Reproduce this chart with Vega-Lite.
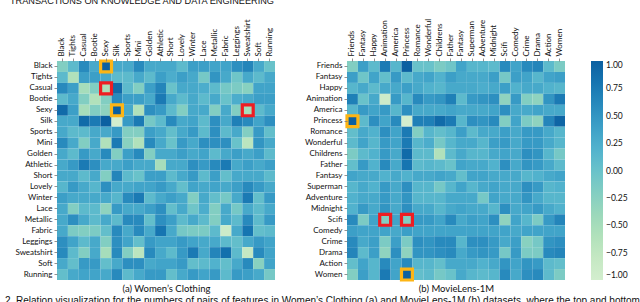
{
"$schema": "https://vega.github.io/schema/vega-lite/v6.json",
"background": "white",
"padding": {"left": 4, "top": -4, "right": 0, "bottom": 0},
"title": {"text": "2. Relation visualization for the numbers of pairs of features in Women’s Clothing (a) and MovieLens-1M (b) datasets, where the top and bottom pairs are marked respectively", "orient": "bottom", "anchor": "start", "frame": "bounds", "font": "Liberation Sans", "fontSize": 10, "fontWeight": "normal", "color": "#111", "offset": 3, "dx": -5},
"datasets": {
"women": [
{"r":"Black","c":"Black","v":-0.2},{"r":"Black","c":"Tights","v":0.1},{"r":"Black","c":"Casual","v":0.6},{"r":"Black","c":"Bootie","v":0.3},{"r":"Black","c":"Sexy","v":1.0},{"r":"Black","c":"Silk","v":0.3},{"r":"Black","c":"Sports","v":0.3},{"r":"Black","c":"Mini","v":0.6},{"r":"Black","c":"Golden","v":0.3},{"r":"Black","c":"Athletic","v":0.3},{"r":"Black","c":"Short","v":0.3},{"r":"Black","c":"Lovely","v":0.1},{"r":"Black","c":"Winter","v":0.4},{"r":"Black","c":"Lace","v":0.4},{"r":"Black","c":"Metallic","v":0.35},{"r":"Black","c":"Fabric","v":0.35},{"r":"Black","c":"Leggings","v":0.55},{"r":"Black","c":"Sweatshirt","v":0.65},{"r":"Black","c":"Soft","v":0.3},{"r":"Black","c":"Running","v":0.0},
{"r":"Tights","c":"Black","v":0.1},{"r":"Tights","c":"Tights","v":-0.6},{"r":"Tights","c":"Casual","v":0.4},{"r":"Tights","c":"Bootie","v":0.4},{"r":"Tights","c":"Sexy","v":0.3},{"r":"Tights","c":"Silk","v":0.1},{"r":"Tights","c":"Sports","v":0.1},{"r":"Tights","c":"Mini","v":0.3},{"r":"Tights","c":"Golden","v":0.1},{"r":"Tights","c":"Athletic","v":0.4},{"r":"Tights","c":"Short","v":0.25},{"r":"Tights","c":"Lovely","v":0.4},{"r":"Tights","c":"Winter","v":0.3},{"r":"Tights","c":"Lace","v":-0.1},{"r":"Tights","c":"Metallic","v":0.5},{"r":"Tights","c":"Fabric","v":0.3},{"r":"Tights","c":"Leggings","v":-0.05},{"r":"Tights","c":"Sweatshirt","v":0.3},{"r":"Tights","c":"Soft","v":0.1},{"r":"Tights","c":"Running","v":0.3},
{"r":"Casual","c":"Black","v":0.6},{"r":"Casual","c":"Tights","v":0.4},{"r":"Casual","c":"Casual","v":-0.5},{"r":"Casual","c":"Bootie","v":-0.2},{"r":"Casual","c":"Sexy","v":-0.55},{"r":"Casual","c":"Silk","v":0.9},{"r":"Casual","c":"Sports","v":0.1},{"r":"Casual","c":"Mini","v":-0.2},{"r":"Casual","c":"Golden","v":0.4},{"r":"Casual","c":"Athletic","v":0.65},{"r":"Casual","c":"Short","v":0.0},{"r":"Casual","c":"Lovely","v":0.3},{"r":"Casual","c":"Winter","v":0.3},{"r":"Casual","c":"Lace","v":0.25},{"r":"Casual","c":"Metallic","v":0.1},{"r":"Casual","c":"Fabric","v":-0.1},{"r":"Casual","c":"Leggings","v":-0.15},{"r":"Casual","c":"Sweatshirt","v":-0.25},{"r":"Casual","c":"Soft","v":0.35},{"r":"Casual","c":"Running","v":0.35},
{"r":"Bootie","c":"Black","v":0.1},{"r":"Bootie","c":"Tights","v":0.3},{"r":"Bootie","c":"Casual","v":-0.2},{"r":"Bootie","c":"Bootie","v":-0.6},{"r":"Bootie","c":"Sexy","v":-0.2},{"r":"Bootie","c":"Silk","v":0.6},{"r":"Bootie","c":"Sports","v":0.4},{"r":"Bootie","c":"Mini","v":0.4},{"r":"Bootie","c":"Golden","v":0.3},{"r":"Bootie","c":"Athletic","v":0.75},{"r":"Bootie","c":"Short","v":0.3},{"r":"Bootie","c":"Lovely","v":0.1},{"r":"Bootie","c":"Winter","v":0.3},{"r":"Bootie","c":"Lace","v":0.1},{"r":"Bootie","c":"Metallic","v":0.3},{"r":"Bootie","c":"Fabric","v":0.0},{"r":"Bootie","c":"Leggings","v":0.25},{"r":"Bootie","c":"Sweatshirt","v":0.3},{"r":"Bootie","c":"Soft","v":0.4},{"r":"Bootie","c":"Running","v":0.4},
{"r":"Sexy","c":"Black","v":0.9},{"r":"Sexy","c":"Tights","v":0.4},{"r":"Sexy","c":"Casual","v":-0.5},{"r":"Sexy","c":"Bootie","v":-0.2},{"r":"Sexy","c":"Sexy","v":-0.3},{"r":"Sexy","c":"Silk","v":1.0},{"r":"Sexy","c":"Sports","v":0.3},{"r":"Sexy","c":"Mini","v":-0.6},{"r":"Sexy","c":"Golden","v":0.55},{"r":"Sexy","c":"Athletic","v":0.45},{"r":"Sexy","c":"Short","v":0.1},{"r":"Sexy","c":"Lovely","v":-0.2},{"r":"Sexy","c":"Winter","v":0.3},{"r":"Sexy","c":"Lace","v":0.3},{"r":"Sexy","c":"Metallic","v":-0.2},{"r":"Sexy","c":"Fabric","v":0.3},{"r":"Sexy","c":"Leggings","v":-0.2},{"r":"Sexy","c":"Sweatshirt","v":-0.5},{"r":"Sexy","c":"Soft","v":0.1},{"r":"Sexy","c":"Running","v":0.3},
{"r":"Silk","c":"Black","v":0.3},{"r":"Silk","c":"Tights","v":0.3},{"r":"Silk","c":"Casual","v":0.9},{"r":"Silk","c":"Bootie","v":0.75},{"r":"Silk","c":"Sexy","v":1.0},{"r":"Silk","c":"Silk","v":-1.0},{"r":"Silk","c":"Sports","v":0.45},{"r":"Silk","c":"Mini","v":0.75},{"r":"Silk","c":"Golden","v":-0.1},{"r":"Silk","c":"Athletic","v":0.1},{"r":"Silk","c":"Short","v":0.6},{"r":"Silk","c":"Lovely","v":0.3},{"r":"Silk","c":"Winter","v":0.35},{"r":"Silk","c":"Lace","v":0.1},{"r":"Silk","c":"Metallic","v":0.55},{"r":"Silk","c":"Fabric","v":0.3},{"r":"Silk","c":"Leggings","v":0.7},{"r":"Silk","c":"Sweatshirt","v":0.6},{"r":"Silk","c":"Soft","v":0.35},{"r":"Silk","c":"Running","v":0.55},
{"r":"Sports","c":"Black","v":0.3},{"r":"Sports","c":"Tights","v":0.1},{"r":"Sports","c":"Casual","v":0.1},{"r":"Sports","c":"Bootie","v":0.3},{"r":"Sports","c":"Sexy","v":0.3},{"r":"Sports","c":"Silk","v":0.45},{"r":"Sports","c":"Sports","v":-0.2},{"r":"Sports","c":"Mini","v":-0.2},{"r":"Sports","c":"Golden","v":0.4},{"r":"Sports","c":"Athletic","v":0.3},{"r":"Sports","c":"Short","v":0.05},{"r":"Sports","c":"Lovely","v":0.3},{"r":"Sports","c":"Winter","v":0.45},{"r":"Sports","c":"Lace","v":0.1},{"r":"Sports","c":"Metallic","v":0.55},{"r":"Sports","c":"Fabric","v":0.1},{"r":"Sports","c":"Leggings","v":0.3},{"r":"Sports","c":"Sweatshirt","v":-0.2},{"r":"Sports","c":"Soft","v":0.45},{"r":"Sports","c":"Running","v":0.05},
{"r":"Mini","c":"Black","v":0.6},{"r":"Mini","c":"Tights","v":0.3},{"r":"Mini","c":"Casual","v":-0.2},{"r":"Mini","c":"Bootie","v":0.3},{"r":"Mini","c":"Sexy","v":-0.6},{"r":"Mini","c":"Silk","v":0.75},{"r":"Mini","c":"Sports","v":-0.25},{"r":"Mini","c":"Mini","v":-0.6},{"r":"Mini","c":"Golden","v":0.6},{"r":"Mini","c":"Athletic","v":0.3},{"r":"Mini","c":"Short","v":0.0},{"r":"Mini","c":"Lovely","v":0.45},{"r":"Mini","c":"Winter","v":0.3},{"r":"Mini","c":"Lace","v":0.55},{"r":"Mini","c":"Metallic","v":0.55},{"r":"Mini","c":"Fabric","v":0.55},{"r":"Mini","c":"Leggings","v":0.0},{"r":"Mini","c":"Sweatshirt","v":-0.7},{"r":"Mini","c":"Soft","v":0.5},{"r":"Mini","c":"Running","v":0.3},
{"r":"Golden","c":"Black","v":0.3},{"r":"Golden","c":"Tights","v":0.1},{"r":"Golden","c":"Casual","v":0.45},{"r":"Golden","c":"Bootie","v":0.3},{"r":"Golden","c":"Sexy","v":0.6},{"r":"Golden","c":"Silk","v":-0.2},{"r":"Golden","c":"Sports","v":0.4},{"r":"Golden","c":"Mini","v":0.6},{"r":"Golden","c":"Golden","v":-0.2},{"r":"Golden","c":"Athletic","v":0.3},{"r":"Golden","c":"Short","v":0.3},{"r":"Golden","c":"Lovely","v":0.4},{"r":"Golden","c":"Winter","v":0.3},{"r":"Golden","c":"Lace","v":0.35},{"r":"Golden","c":"Metallic","v":0.1},{"r":"Golden","c":"Fabric","v":0.3},{"r":"Golden","c":"Leggings","v":0.4},{"r":"Golden","c":"Sweatshirt","v":0.3},{"r":"Golden","c":"Soft","v":0.4},{"r":"Golden","c":"Running","v":0.1},
{"r":"Athletic","c":"Black","v":0.3},{"r":"Athletic","c":"Tights","v":0.45},{"r":"Athletic","c":"Casual","v":0.75},{"r":"Athletic","c":"Bootie","v":0.55},{"r":"Athletic","c":"Sexy","v":0.3},{"r":"Athletic","c":"Silk","v":0.3},{"r":"Athletic","c":"Sports","v":0.4},{"r":"Athletic","c":"Mini","v":0.3},{"r":"Athletic","c":"Golden","v":0.3},{"r":"Athletic","c":"Athletic","v":-0.5},{"r":"Athletic","c":"Short","v":0.3},{"r":"Athletic","c":"Lovely","v":0.3},{"r":"Athletic","c":"Winter","v":0.55},{"r":"Athletic","c":"Lace","v":0.45},{"r":"Athletic","c":"Metallic","v":0.6},{"r":"Athletic","c":"Fabric","v":0.75},{"r":"Athletic","c":"Leggings","v":0.3},{"r":"Athletic","c":"Sweatshirt","v":0.4},{"r":"Athletic","c":"Soft","v":0.3},{"r":"Athletic","c":"Running","v":0.4},
{"r":"Short","c":"Black","v":0.3},{"r":"Short","c":"Tights","v":0.3},{"r":"Short","c":"Casual","v":0.1},{"r":"Short","c":"Bootie","v":0.3},{"r":"Short","c":"Sexy","v":-0.2},{"r":"Short","c":"Silk","v":0.65},{"r":"Short","c":"Sports","v":0.1},{"r":"Short","c":"Mini","v":0.0},{"r":"Short","c":"Golden","v":0.4},{"r":"Short","c":"Athletic","v":0.4},{"r":"Short","c":"Short","v":0.1},{"r":"Short","c":"Lovely","v":0.3},{"r":"Short","c":"Winter","v":0.45},{"r":"Short","c":"Lace","v":0.1},{"r":"Short","c":"Metallic","v":0.4},{"r":"Short","c":"Fabric","v":0.05},{"r":"Short","c":"Leggings","v":0.3},{"r":"Short","c":"Sweatshirt","v":0.3},{"r":"Short","c":"Soft","v":0.3},{"r":"Short","c":"Running","v":0.1},
{"r":"Lovely","c":"Black","v":0.15},{"r":"Lovely","c":"Tights","v":0.45},{"r":"Lovely","c":"Casual","v":0.3},{"r":"Lovely","c":"Bootie","v":0.15},{"r":"Lovely","c":"Sexy","v":0.55},{"r":"Lovely","c":"Silk","v":0.3},{"r":"Lovely","c":"Sports","v":0.3},{"r":"Lovely","c":"Mini","v":0.35},{"r":"Lovely","c":"Golden","v":0.35},{"r":"Lovely","c":"Athletic","v":0.45},{"r":"Lovely","c":"Short","v":0.3},{"r":"Lovely","c":"Lovely","v":0.05},{"r":"Lovely","c":"Winter","v":0.35},{"r":"Lovely","c":"Lace","v":0.3},{"r":"Lovely","c":"Metallic","v":0.35},{"r":"Lovely","c":"Fabric","v":0.3},{"r":"Lovely","c":"Leggings","v":0.4},{"r":"Lovely","c":"Sweatshirt","v":0.6},{"r":"Lovely","c":"Soft","v":0.45},{"r":"Lovely","c":"Running","v":0.3},
{"r":"Winter","c":"Black","v":0.4},{"r":"Winter","c":"Tights","v":0.3},{"r":"Winter","c":"Casual","v":0.3},{"r":"Winter","c":"Bootie","v":0.3},{"r":"Winter","c":"Sexy","v":0.3},{"r":"Winter","c":"Silk","v":0.15},{"r":"Winter","c":"Sports","v":0.6},{"r":"Winter","c":"Mini","v":0.75},{"r":"Winter","c":"Golden","v":0.1},{"r":"Winter","c":"Athletic","v":0.3},{"r":"Winter","c":"Short","v":0.4},{"r":"Winter","c":"Lovely","v":0.3},{"r":"Winter","c":"Winter","v":-0.2},{"r":"Winter","c":"Lace","v":0.3},{"r":"Winter","c":"Metallic","v":0.05},{"r":"Winter","c":"Fabric","v":-0.1},{"r":"Winter","c":"Leggings","v":0.3},{"r":"Winter","c":"Sweatshirt","v":0.75},{"r":"Winter","c":"Soft","v":0.05},{"r":"Winter","c":"Running","v":0.45},
{"r":"Lace","c":"Black","v":0.3},{"r":"Lace","c":"Tights","v":-0.2},{"r":"Lace","c":"Casual","v":0.1},{"r":"Lace","c":"Bootie","v":0.1},{"r":"Lace","c":"Sexy","v":-0.3},{"r":"Lace","c":"Silk","v":0.45},{"r":"Lace","c":"Sports","v":0.3},{"r":"Lace","c":"Mini","v":0.3},{"r":"Lace","c":"Golden","v":0.4},{"r":"Lace","c":"Athletic","v":0.55},{"r":"Lace","c":"Short","v":0.05},{"r":"Lace","c":"Lovely","v":0.3},{"r":"Lace","c":"Winter","v":-0.05},{"r":"Lace","c":"Lace","v":0.25},{"r":"Lace","c":"Metallic","v":-0.2},{"r":"Lace","c":"Fabric","v":0.3},{"r":"Lace","c":"Leggings","v":-0.1},{"r":"Lace","c":"Sweatshirt","v":0.3},{"r":"Lace","c":"Soft","v":0.1},{"r":"Lace","c":"Running","v":0.3},
{"r":"Metallic","c":"Black","v":0.3},{"r":"Metallic","c":"Tights","v":0.55},{"r":"Metallic","c":"Casual","v":0.3},{"r":"Metallic","c":"Bootie","v":0.1},{"r":"Metallic","c":"Sexy","v":0.3},{"r":"Metallic","c":"Silk","v":0.1},{"r":"Metallic","c":"Sports","v":0.6},{"r":"Metallic","c":"Mini","v":0.6},{"r":"Metallic","c":"Golden","v":0.05},{"r":"Metallic","c":"Athletic","v":0.55},{"r":"Metallic","c":"Short","v":0.4},{"r":"Metallic","c":"Lovely","v":0.1},{"r":"Metallic","c":"Winter","v":0.3},{"r":"Metallic","c":"Lace","v":0.1},{"r":"Metallic","c":"Metallic","v":-0.2},{"r":"Metallic","c":"Fabric","v":0.3},{"r":"Metallic","c":"Leggings","v":0.1},{"r":"Metallic","c":"Sweatshirt","v":0.6},{"r":"Metallic","c":"Soft","v":0.1},{"r":"Metallic","c":"Running","v":0.45},
{"r":"Fabric","c":"Black","v":0.3},{"r":"Fabric","c":"Tights","v":-0.15},{"r":"Fabric","c":"Casual","v":-0.2},{"r":"Fabric","c":"Bootie","v":-0.15},{"r":"Fabric","c":"Sexy","v":0.05},{"r":"Fabric","c":"Silk","v":0.6},{"r":"Fabric","c":"Sports","v":0.3},{"r":"Fabric","c":"Mini","v":0.6},{"r":"Fabric","c":"Golden","v":0.3},{"r":"Fabric","c":"Athletic","v":0.8},{"r":"Fabric","c":"Short","v":0.3},{"r":"Fabric","c":"Lovely","v":-0.1},{"r":"Fabric","c":"Winter","v":-0.15},{"r":"Fabric","c":"Lace","v":-0.15},{"r":"Fabric","c":"Metallic","v":0.1},{"r":"Fabric","c":"Fabric","v":-0.9},{"r":"Fabric","c":"Leggings","v":0.3},{"r":"Fabric","c":"Sweatshirt","v":0.8},{"r":"Fabric","c":"Soft","v":0.05},{"r":"Fabric","c":"Running","v":0.1},
{"r":"Leggings","c":"Black","v":0.55},{"r":"Leggings","c":"Tights","v":0.35},{"r":"Leggings","c":"Casual","v":0.1},{"r":"Leggings","c":"Bootie","v":0.3},{"r":"Leggings","c":"Sexy","v":-0.2},{"r":"Leggings","c":"Silk","v":0.55},{"r":"Leggings","c":"Sports","v":0.35},{"r":"Leggings","c":"Mini","v":0.05},{"r":"Leggings","c":"Golden","v":0.45},{"r":"Leggings","c":"Athletic","v":0.35},{"r":"Leggings","c":"Short","v":0.35},{"r":"Leggings","c":"Lovely","v":0.45},{"r":"Leggings","c":"Winter","v":0.35},{"r":"Leggings","c":"Lace","v":0.3},{"r":"Leggings","c":"Metallic","v":0.3},{"r":"Leggings","c":"Fabric","v":0.1},{"r":"Leggings","c":"Leggings","v":0.05},{"r":"Leggings","c":"Sweatshirt","v":0.3},{"r":"Leggings","c":"Soft","v":0.45},{"r":"Leggings","c":"Running","v":0.35},
{"r":"Sweatshirt","c":"Black","v":0.6},{"r":"Sweatshirt","c":"Tights","v":0.1},{"r":"Sweatshirt","c":"Casual","v":-0.2},{"r":"Sweatshirt","c":"Bootie","v":0.3},{"r":"Sweatshirt","c":"Sexy","v":-0.5},{"r":"Sweatshirt","c":"Silk","v":0.6},{"r":"Sweatshirt","c":"Sports","v":-0.2},{"r":"Sweatshirt","c":"Mini","v":-0.7},{"r":"Sweatshirt","c":"Golden","v":0.6},{"r":"Sweatshirt","c":"Athletic","v":0.3},{"r":"Sweatshirt","c":"Short","v":0.1},{"r":"Sweatshirt","c":"Lovely","v":0.45},{"r":"Sweatshirt","c":"Winter","v":0.75},{"r":"Sweatshirt","c":"Lace","v":0.3},{"r":"Sweatshirt","c":"Metallic","v":0.65},{"r":"Sweatshirt","c":"Fabric","v":0.85},{"r":"Sweatshirt","c":"Leggings","v":0.1},{"r":"Sweatshirt","c":"Sweatshirt","v":-0.8},{"r":"Sweatshirt","c":"Soft","v":0.6},{"r":"Sweatshirt","c":"Running","v":0.35},
{"r":"Soft","c":"Black","v":0.3},{"r":"Soft","c":"Tights","v":0.05},{"r":"Soft","c":"Casual","v":0.45},{"r":"Soft","c":"Bootie","v":0.45},{"r":"Soft","c":"Sexy","v":0.05},{"r":"Soft","c":"Silk","v":0.3},{"r":"Soft","c":"Sports","v":0.55},{"r":"Soft","c":"Mini","v":0.55},{"r":"Soft","c":"Golden","v":0.3},{"r":"Soft","c":"Athletic","v":0.35},{"r":"Soft","c":"Short","v":0.35},{"r":"Soft","c":"Lovely","v":0.45},{"r":"Soft","c":"Winter","v":0.05},{"r":"Soft","c":"Lace","v":0.1},{"r":"Soft","c":"Metallic","v":0.2},{"r":"Soft","c":"Fabric","v":0.05},{"r":"Soft","c":"Leggings","v":0.3},{"r":"Soft","c":"Sweatshirt","v":0.6},{"r":"Soft","c":"Soft","v":-0.25},{"r":"Soft","c":"Running","v":0.35},
{"r":"Running","c":"Black","v":0.05},{"r":"Running","c":"Tights","v":0.3},{"r":"Running","c":"Casual","v":0.35},{"r":"Running","c":"Bootie","v":0.35},{"r":"Running","c":"Sexy","v":0.3},{"r":"Running","c":"Silk","v":0.6},{"r":"Running","c":"Sports","v":0.1},{"r":"Running","c":"Mini","v":0.3},{"r":"Running","c":"Golden","v":0.45},{"r":"Running","c":"Athletic","v":0.45},{"r":"Running","c":"Short","v":0.05},{"r":"Running","c":"Lovely","v":0.3},{"r":"Running","c":"Winter","v":0.45},{"r":"Running","c":"Lace","v":0.35},{"r":"Running","c":"Metallic","v":0.45},{"r":"Running","c":"Fabric","v":0.1},{"r":"Running","c":"Leggings","v":0.45},{"r":"Running","c":"Sweatshirt","v":0.4},{"r":"Running","c":"Soft","v":0.3},{"r":"Running","c":"Running","v":-0.1}
],
"movie": [
{"r":"Friends","c":"Friends","v":-0.2},{"r":"Friends","c":"Fantasy","v":0.4},{"r":"Friends","c":"Happy","v":0.1},{"r":"Friends","c":"Animation","v":0.75},{"r":"Friends","c":"America","v":0.15},{"r":"Friends","c":"Princess","v":1.0},{"r":"Friends","c":"Romance","v":0.0},{"r":"Friends","c":"Wonderful","v":0.0},{"r":"Friends","c":"Childrens","v":-0.15},{"r":"Friends","c":"Father","v":-0.05},{"r":"Friends","c":"Fantasy (2)","v":0.35},{"r":"Friends","c":"Superman","v":0.15},{"r":"Friends","c":"Adventure","v":0.15},{"r":"Friends","c":"Midnight","v":0.1},{"r":"Friends","c":"Scifi","v":0.6},{"r":"Friends","c":"Comedy","v":0.35},{"r":"Friends","c":"Crime","v":0.6},{"r":"Friends","c":"Drama","v":0.65},{"r":"Friends","c":"Action","v":0.1},{"r":"Friends","c":"Women","v":-0.15},
{"r":"Fantasy","c":"Friends","v":0.4},{"r":"Fantasy","c":"Fantasy","v":-0.05},{"r":"Fantasy","c":"Happy","v":0.35},{"r":"Fantasy","c":"Animation","v":0.05},{"r":"Fantasy","c":"America","v":0.45},{"r":"Fantasy","c":"Princess","v":0.1},{"r":"Fantasy","c":"Romance","v":0.3},{"r":"Fantasy","c":"Wonderful","v":0.35},{"r":"Fantasy","c":"Childrens","v":0.2},{"r":"Fantasy","c":"Father","v":0.4},{"r":"Fantasy","c":"Fantasy (2)","v":0.3},{"r":"Fantasy","c":"Superman","v":0.3},{"r":"Fantasy","c":"Adventure","v":0.3},{"r":"Fantasy","c":"Midnight","v":0.4},{"r":"Fantasy","c":"Scifi","v":-0.1},{"r":"Fantasy","c":"Comedy","v":0.4},{"r":"Fantasy","c":"Crime","v":0.35},{"r":"Fantasy","c":"Drama","v":0.15},{"r":"Fantasy","c":"Action","v":0.35},{"r":"Fantasy","c":"Women","v":0.4},
{"r":"Happy","c":"Friends","v":0.15},{"r":"Happy","c":"Fantasy","v":0.3},{"r":"Happy","c":"Happy","v":0.1},{"r":"Happy","c":"Animation","v":0.3},{"r":"Happy","c":"America","v":0.3},{"r":"Happy","c":"Princess","v":0.4},{"r":"Happy","c":"Romance","v":0.3},{"r":"Happy","c":"Wonderful","v":0.2},{"r":"Happy","c":"Childrens","v":0.15},{"r":"Happy","c":"Father","v":0.3},{"r":"Happy","c":"Fantasy (2)","v":0.3},{"r":"Happy","c":"Superman","v":0.3},{"r":"Happy","c":"Adventure","v":0.25},{"r":"Happy","c":"Midnight","v":0.3},{"r":"Happy","c":"Scifi","v":0.4},{"r":"Happy","c":"Comedy","v":0.2},{"r":"Happy","c":"Crime","v":0.3},{"r":"Happy","c":"Drama","v":0.3},{"r":"Happy","c":"Action","v":0.2},{"r":"Happy","c":"Women","v":0.15},
{"r":"Animation","c":"Friends","v":0.7},{"r":"Animation","c":"Fantasy","v":0.0},{"r":"Animation","c":"Happy","v":0.3},{"r":"Animation","c":"Animation","v":-0.9},{"r":"Animation","c":"America","v":0.45},{"r":"Animation","c":"Princess","v":0.15},{"r":"Animation","c":"Romance","v":0.6},{"r":"Animation","c":"Wonderful","v":0.45},{"r":"Animation","c":"Childrens","v":0.5},{"r":"Animation","c":"Father","v":0.7},{"r":"Animation","c":"Fantasy (2)","v":0.1},{"r":"Animation","c":"Superman","v":0.45},{"r":"Animation","c":"Adventure","v":0.5},{"r":"Animation","c":"Midnight","v":0.55},{"r":"Animation","c":"Scifi","v":-0.3},{"r":"Animation","c":"Comedy","v":0.45},{"r":"Animation","c":"Crime","v":-0.2},{"r":"Animation","c":"Drama","v":-0.3},{"r":"Animation","c":"Action","v":0.5},{"r":"Animation","c":"Women","v":0.75},
{"r":"America","c":"Friends","v":0.15},{"r":"America","c":"Fantasy","v":0.45},{"r":"America","c":"Happy","v":0.35},{"r":"America","c":"Animation","v":0.45},{"r":"America","c":"America","v":0.15},{"r":"America","c":"Princess","v":0.55},{"r":"America","c":"Romance","v":0.3},{"r":"America","c":"Wonderful","v":0.3},{"r":"America","c":"Childrens","v":0.3},{"r":"America","c":"Father","v":0.35},{"r":"America","c":"Fantasy (2)","v":0.3},{"r":"America","c":"Superman","v":0.3},{"r":"America","c":"Adventure","v":0.3},{"r":"America","c":"Midnight","v":0.35},{"r":"America","c":"Scifi","v":0.55},{"r":"America","c":"Comedy","v":0.3},{"r":"America","c":"Crime","v":0.3},{"r":"America","c":"Drama","v":0.35},{"r":"America","c":"Action","v":0.3},{"r":"America","c":"Women","v":0.3},
{"r":"Princess","c":"Friends","v":1.0},{"r":"Princess","c":"Fantasy","v":0.1},{"r":"Princess","c":"Happy","v":0.55},{"r":"Princess","c":"Animation","v":0.35},{"r":"Princess","c":"America","v":0.6},{"r":"Princess","c":"Princess","v":-1.0},{"r":"Princess","c":"Romance","v":0.7},{"r":"Princess","c":"Wonderful","v":0.7},{"r":"Princess","c":"Childrens","v":0.9},{"r":"Princess","c":"Father","v":0.75},{"r":"Princess","c":"Fantasy (2)","v":0.15},{"r":"Princess","c":"Superman","v":0.55},{"r":"Princess","c":"Adventure","v":0.5},{"r":"Princess","c":"Midnight","v":0.6},{"r":"Princess","c":"Scifi","v":-0.2},{"r":"Princess","c":"Comedy","v":0.35},{"r":"Princess","c":"Crime","v":-0.15},{"r":"Princess","c":"Drama","v":-0.3},{"r":"Princess","c":"Action","v":0.65},{"r":"Princess","c":"Women","v":0.95},
{"r":"Romance","c":"Friends","v":0.05},{"r":"Romance","c":"Fantasy","v":0.3},{"r":"Romance","c":"Happy","v":0.2},{"r":"Romance","c":"Animation","v":0.55},{"r":"Romance","c":"America","v":0.35},{"r":"Romance","c":"Princess","v":0.75},{"r":"Romance","c":"Romance","v":-0.2},{"r":"Romance","c":"Wonderful","v":0.15},{"r":"Romance","c":"Childrens","v":0.05},{"r":"Romance","c":"Father","v":0.15},{"r":"Romance","c":"Fantasy (2)","v":0.4},{"r":"Romance","c":"Superman","v":0.1},{"r":"Romance","c":"Adventure","v":0.3},{"r":"Romance","c":"Midnight","v":0.3},{"r":"Romance","c":"Scifi","v":0.4},{"r":"Romance","c":"Comedy","v":0.3},{"r":"Romance","c":"Crime","v":0.45},{"r":"Romance","c":"Drama","v":0.45},{"r":"Romance","c":"Action","v":0.3},{"r":"Romance","c":"Women","v":0.15},
{"r":"Wonderful","c":"Friends","v":0.1},{"r":"Wonderful","c":"Fantasy","v":0.35},{"r":"Wonderful","c":"Happy","v":0.15},{"r":"Wonderful","c":"Animation","v":0.45},{"r":"Wonderful","c":"America","v":0.35},{"r":"Wonderful","c":"Princess","v":0.75},{"r":"Wonderful","c":"Romance","v":0.15},{"r":"Wonderful","c":"Wonderful","v":0.25},{"r":"Wonderful","c":"Childrens","v":-0.1},{"r":"Wonderful","c":"Father","v":0.15},{"r":"Wonderful","c":"Fantasy (2)","v":0.3},{"r":"Wonderful","c":"Superman","v":0.3},{"r":"Wonderful","c":"Adventure","v":0.15},{"r":"Wonderful","c":"Midnight","v":0.4},{"r":"Wonderful","c":"Scifi","v":0.45},{"r":"Wonderful","c":"Comedy","v":0.3},{"r":"Wonderful","c":"Crime","v":0.45},{"r":"Wonderful","c":"Drama","v":0.45},{"r":"Wonderful","c":"Action","v":0.3},{"r":"Wonderful","c":"Women","v":0.15},
{"r":"Childrens","c":"Friends","v":-0.15},{"r":"Childrens","c":"Fantasy","v":0.1},{"r":"Childrens","c":"Happy","v":0.2},{"r":"Childrens","c":"Animation","v":0.45},{"r":"Childrens","c":"America","v":0.3},{"r":"Childrens","c":"Princess","v":0.9},{"r":"Childrens","c":"Romance","v":0.1},{"r":"Childrens","c":"Wonderful","v":0.1},{"r":"Childrens","c":"Childrens","v":-0.6},{"r":"Childrens","c":"Father","v":0.1},{"r":"Childrens","c":"Fantasy (2)","v":0.3},{"r":"Childrens","c":"Superman","v":0.15},{"r":"Childrens","c":"Adventure","v":0.15},{"r":"Childrens","c":"Midnight","v":0.3},{"r":"Childrens","c":"Scifi","v":0.35},{"r":"Childrens","c":"Comedy","v":0.3},{"r":"Childrens","c":"Crime","v":0.55},{"r":"Childrens","c":"Drama","v":0.5},{"r":"Childrens","c":"Action","v":0.15},{"r":"Childrens","c":"Women","v":-0.1},
{"r":"Father","c":"Friends","v":0.05},{"r":"Father","c":"Fantasy","v":0.45},{"r":"Father","c":"Happy","v":0.2},{"r":"Father","c":"Animation","v":0.6},{"r":"Father","c":"America","v":0.3},{"r":"Father","c":"Princess","v":0.8},{"r":"Father","c":"Romance","v":0.1},{"r":"Father","c":"Wonderful","v":0.15},{"r":"Father","c":"Childrens","v":0.1},{"r":"Father","c":"Father","v":0.0},{"r":"Father","c":"Fantasy (2)","v":0.35},{"r":"Father","c":"Superman","v":0.3},{"r":"Father","c":"Adventure","v":0.3},{"r":"Father","c":"Midnight","v":0.2},{"r":"Father","c":"Scifi","v":0.55},{"r":"Father","c":"Comedy","v":0.3},{"r":"Father","c":"Crime","v":0.5},{"r":"Father","c":"Drama","v":0.45},{"r":"Father","c":"Action","v":0.3},{"r":"Father","c":"Women","v":0.1},
{"r":"Fantasy (2)","c":"Friends","v":0.35},{"r":"Fantasy (2)","c":"Fantasy","v":0.3},{"r":"Fantasy (2)","c":"Happy","v":0.3},{"r":"Fantasy (2)","c":"Animation","v":0.2},{"r":"Fantasy (2)","c":"America","v":0.3},{"r":"Fantasy (2)","c":"Princess","v":0.2},{"r":"Fantasy (2)","c":"Romance","v":0.3},{"r":"Fantasy (2)","c":"Wonderful","v":0.3},{"r":"Fantasy (2)","c":"Childrens","v":0.35},{"r":"Fantasy (2)","c":"Father","v":0.3},{"r":"Fantasy (2)","c":"Fantasy (2)","v":0.05},{"r":"Fantasy (2)","c":"Superman","v":0.35},{"r":"Fantasy (2)","c":"Adventure","v":0.35},{"r":"Fantasy (2)","c":"Midnight","v":0.3},{"r":"Fantasy (2)","c":"Scifi","v":0.3},{"r":"Fantasy (2)","c":"Comedy","v":0.3},{"r":"Fantasy (2)","c":"Crime","v":0.15},{"r":"Fantasy (2)","c":"Drama","v":0.2},{"r":"Fantasy (2)","c":"Action","v":0.3},{"r":"Fantasy (2)","c":"Women","v":0.35},
{"r":"Superman","c":"Friends","v":0.15},{"r":"Superman","c":"Fantasy","v":0.3},{"r":"Superman","c":"Happy","v":0.2},{"r":"Superman","c":"Animation","v":0.45},{"r":"Superman","c":"America","v":0.3},{"r":"Superman","c":"Princess","v":0.55},{"r":"Superman","c":"Romance","v":0.15},{"r":"Superman","c":"Wonderful","v":0.15},{"r":"Superman","c":"Childrens","v":-0.1},{"r":"Superman","c":"Father","v":0.15},{"r":"Superman","c":"Fantasy (2)","v":0.35},{"r":"Superman","c":"Superman","v":0.15},{"r":"Superman","c":"Adventure","v":0.3},{"r":"Superman","c":"Midnight","v":0.35},{"r":"Superman","c":"Scifi","v":0.3},{"r":"Superman","c":"Comedy","v":0.3},{"r":"Superman","c":"Crime","v":0.55},{"r":"Superman","c":"Drama","v":0.45},{"r":"Superman","c":"Action","v":0.15},{"r":"Superman","c":"Women","v":0.2},
{"r":"Adventure","c":"Friends","v":0.2},{"r":"Adventure","c":"Fantasy","v":0.3},{"r":"Adventure","c":"Happy","v":0.3},{"r":"Adventure","c":"Animation","v":0.45},{"r":"Adventure","c":"America","v":0.3},{"r":"Adventure","c":"Princess","v":0.5},{"r":"Adventure","c":"Romance","v":0.15},{"r":"Adventure","c":"Wonderful","v":0.15},{"r":"Adventure","c":"Childrens","v":0.15},{"r":"Adventure","c":"Father","v":0.3},{"r":"Adventure","c":"Fantasy (2)","v":0.3},{"r":"Adventure","c":"Superman","v":0.3},{"r":"Adventure","c":"Adventure","v":-0.1},{"r":"Adventure","c":"Midnight","v":0.35},{"r":"Adventure","c":"Scifi","v":0.3},{"r":"Adventure","c":"Comedy","v":0.3},{"r":"Adventure","c":"Crime","v":0.5},{"r":"Adventure","c":"Drama","v":0.3},{"r":"Adventure","c":"Action","v":0.15},{"r":"Adventure","c":"Women","v":0.15},
{"r":"Midnight","c":"Friends","v":0.2},{"r":"Midnight","c":"Fantasy","v":0.45},{"r":"Midnight","c":"Happy","v":0.3},{"r":"Midnight","c":"Animation","v":0.5},{"r":"Midnight","c":"America","v":0.3},{"r":"Midnight","c":"Princess","v":0.55},{"r":"Midnight","c":"Romance","v":0.3},{"r":"Midnight","c":"Wonderful","v":0.3},{"r":"Midnight","c":"Childrens","v":0.15},{"r":"Midnight","c":"Father","v":0.3},{"r":"Midnight","c":"Fantasy (2)","v":0.35},{"r":"Midnight","c":"Superman","v":0.3},{"r":"Midnight","c":"Adventure","v":0.3},{"r":"Midnight","c":"Midnight","v":0.15},{"r":"Midnight","c":"Scifi","v":0.55},{"r":"Midnight","c":"Comedy","v":0.3},{"r":"Midnight","c":"Crime","v":0.35},{"r":"Midnight","c":"Drama","v":0.45},{"r":"Midnight","c":"Action","v":0.3},{"r":"Midnight","c":"Women","v":0.2},
{"r":"Scifi","c":"Friends","v":0.6},{"r":"Scifi","c":"Fantasy","v":-0.15},{"r":"Scifi","c":"Happy","v":0.35},{"r":"Scifi","c":"Animation","v":-0.2},{"r":"Scifi","c":"America","v":0.35},{"r":"Scifi","c":"Princess","v":-0.2},{"r":"Scifi","c":"Romance","v":0.45},{"r":"Scifi","c":"Wonderful","v":0.45},{"r":"Scifi","c":"Childrens","v":0.35},{"r":"Scifi","c":"Father","v":0.6},{"r":"Scifi","c":"Fantasy (2)","v":0.3},{"r":"Scifi","c":"Superman","v":0.4},{"r":"Scifi","c":"Adventure","v":0.35},{"r":"Scifi","c":"Midnight","v":0.55},{"r":"Scifi","c":"Scifi","v":-0.3},{"r":"Scifi","c":"Comedy","v":0.35},{"r":"Scifi","c":"Crime","v":0.15},{"r":"Scifi","c":"Drama","v":-0.15},{"r":"Scifi","c":"Action","v":0.45},{"r":"Scifi","c":"Women","v":0.65},
{"r":"Comedy","c":"Friends","v":0.4},{"r":"Comedy","c":"Fantasy","v":0.35},{"r":"Comedy","c":"Happy","v":0.35},{"r":"Comedy","c":"Animation","v":0.35},{"r":"Comedy","c":"America","v":0.3},{"r":"Comedy","c":"Princess","v":0.4},{"r":"Comedy","c":"Romance","v":0.35},{"r":"Comedy","c":"Wonderful","v":0.35},{"r":"Comedy","c":"Childrens","v":0.35},{"r":"Comedy","c":"Father","v":0.35},{"r":"Comedy","c":"Fantasy (2)","v":0.35},{"r":"Comedy","c":"Superman","v":0.35},{"r":"Comedy","c":"Adventure","v":0.35},{"r":"Comedy","c":"Midnight","v":0.35},{"r":"Comedy","c":"Scifi","v":0.35},{"r":"Comedy","c":"Comedy","v":0.3},{"r":"Comedy","c":"Crime","v":0.35},{"r":"Comedy","c":"Drama","v":0.35},{"r":"Comedy","c":"Action","v":0.35},{"r":"Comedy","c":"Women","v":0.35},
{"r":"Crime","c":"Friends","v":0.6},{"r":"Crime","c":"Fantasy","v":0.3},{"r":"Crime","c":"Happy","v":0.4},{"r":"Crime","c":"Animation","v":-0.15},{"r":"Crime","c":"America","v":0.4},{"r":"Crime","c":"Princess","v":-0.15},{"r":"Crime","c":"Romance","v":0.55},{"r":"Crime","c":"Wonderful","v":0.5},{"r":"Crime","c":"Childrens","v":0.6},{"r":"Crime","c":"Father","v":0.6},{"r":"Crime","c":"Fantasy (2)","v":0.15},{"r":"Crime","c":"Superman","v":0.55},{"r":"Crime","c":"Adventure","v":0.55},{"r":"Crime","c":"Midnight","v":0.45},{"r":"Crime","c":"Scifi","v":0.3},{"r":"Crime","c":"Comedy","v":0.4},{"r":"Crime","c":"Crime","v":-0.25},{"r":"Crime","c":"Drama","v":-0.1},{"r":"Crime","c":"Action","v":0.5},{"r":"Crime","c":"Women","v":0.55},
{"r":"Drama","c":"Friends","v":0.65},{"r":"Drama","c":"Fantasy","v":0.1},{"r":"Drama","c":"Happy","v":0.4},{"r":"Drama","c":"Animation","v":-0.3},{"r":"Drama","c":"America","v":0.55},{"r":"Drama","c":"Princess","v":-0.3},{"r":"Drama","c":"Romance","v":0.5},{"r":"Drama","c":"Wonderful","v":0.5},{"r":"Drama","c":"Childrens","v":0.55},{"r":"Drama","c":"Father","v":0.6},{"r":"Drama","c":"Fantasy (2)","v":0.3},{"r":"Drama","c":"Superman","v":0.45},{"r":"Drama","c":"Adventure","v":0.5},{"r":"Drama","c":"Midnight","v":0.45},{"r":"Drama","c":"Scifi","v":-0.1},{"r":"Drama","c":"Comedy","v":0.45},{"r":"Drama","c":"Crime","v":-0.15},{"r":"Drama","c":"Drama","v":-0.15},{"r":"Drama","c":"Action","v":0.6},{"r":"Drama","c":"Women","v":0.65},
{"r":"Action","c":"Friends","v":0.05},{"r":"Action","c":"Fantasy","v":0.35},{"r":"Action","c":"Happy","v":0.15},{"r":"Action","c":"Animation","v":0.6},{"r":"Action","c":"America","v":0.35},{"r":"Action","c":"Princess","v":0.6},{"r":"Action","c":"Romance","v":0.15},{"r":"Action","c":"Wonderful","v":0.15},{"r":"Action","c":"Childrens","v":0.05},{"r":"Action","c":"Father","v":0.3},{"r":"Action","c":"Fantasy (2)","v":0.3},{"r":"Action","c":"Superman","v":0.3},{"r":"Action","c":"Adventure","v":0.2},{"r":"Action","c":"Midnight","v":0.3},{"r":"Action","c":"Scifi","v":0.5},{"r":"Action","c":"Comedy","v":0.35},{"r":"Action","c":"Crime","v":0.5},{"r":"Action","c":"Drama","v":0.45},{"r":"Action","c":"Action","v":0.1},{"r":"Action","c":"Women","v":0.05},
{"r":"Women","c":"Friends","v":-0.2},{"r":"Women","c":"Fantasy","v":0.4},{"r":"Women","c":"Happy","v":0.15},{"r":"Women","c":"Animation","v":0.75},{"r":"Women","c":"America","v":0.35},{"r":"Women","c":"Princess","v":1.0},{"r":"Women","c":"Romance","v":0.05},{"r":"Women","c":"Wonderful","v":0.1},{"r":"Women","c":"Childrens","v":-0.1},{"r":"Women","c":"Father","v":0.0},{"r":"Women","c":"Fantasy (2)","v":0.3},{"r":"Women","c":"Superman","v":0.15},{"r":"Women","c":"Adventure","v":0.1},{"r":"Women","c":"Midnight","v":0.15},{"r":"Women","c":"Scifi","v":0.6},{"r":"Women","c":"Comedy","v":0.3},{"r":"Women","c":"Crime","v":0.55},{"r":"Women","c":"Drama","v":0.6},{"r":"Women","c":"Action","v":0.1},{"r":"Women","c":"Women","v":-0.15}
],
"wbox": [{"r":"Black","c":"Sexy","k":"high"},{"r":"Sexy","c":"Silk","k":"high"},{"r":"Casual","c":"Sexy","k":"low"},{"r":"Sexy","c":"Sweatshirt","k":"low"}],
"mbox": [{"r":"Princess","c":"Friends","k":"high"},{"r":"Women","c":"Princess","k":"high"},{"r":"Scifi","c":"Animation","k":"low"},{"r":"Scifi","c":"Princess","k":"low"}]
},
"hconcat": [
{
"width": 218, "height": 219,
"title": {"text": "TRANSACTIONS ON KNOWLEDGE AND DATA ENGINEERING", "anchor": "start", "frame": "bounds", "font": "Liberation Sans", "fontSize": 9.2, "fontWeight": "normal", "color": "#111", "offset": 13, "dx": -5},
"layer": [
{"data": {"name": "women"}, "mark": "rect",
"encoding": {
"x": {"field": "c", "type": "nominal", "scale": {"domain": ["Black","Tights","Casual","Bootie","Sexy","Silk","Sports","Mini","Golden","Athletic","Short","Lovely","Winter","Lace","Metallic","Fabric","Leggings","Sweatshirt","Soft","Running"]}, "axis": {"orient": "top", "labelAngle": -90, "title": null}},
"y": {"field": "r", "type": "nominal", "scale": {"domain": ["Black","Tights","Casual","Bootie","Sexy","Silk","Sports","Mini","Golden","Athletic","Short","Lovely","Winter","Lace","Metallic","Fabric","Leggings","Sweatshirt","Soft","Running"]}, "axis": {"title": null}},
"color": {"field": "v", "type": "quantitative", "scale": {"scheme": "greenblue", "domain": [-1, 1]}, "legend": {"title": null, "orient": "right", "offset": 26, "gradientLength": 219, "gradientThickness": 12, "values": [-1, -0.75, -0.5, -0.25, 0, 0.25, 0.5, 0.75, 1], "format": ".2f", "labelFont": "Lato", "labelFontSize": 8.5, "labelOffset": 3, "labelColor": "#111", "labelBaseline": "middle", "gradientStrokeWidth": 0, "labelOverlap": false}}
}},
{"data": {"name": "wbox"}, "mark": {"type": "rect", "filled": false, "strokeWidth": 3.2},
"encoding": {
"x": {"field": "c", "type": "nominal", "scale": {"domain": ["Black","Tights","Casual","Bootie","Sexy","Silk","Sports","Mini","Golden","Athletic","Short","Lovely","Winter","Lace","Metallic","Fabric","Leggings","Sweatshirt","Soft","Running"]}, "axis": {"orient": "bottom", "title": "(a) Women’s Clothing", "labels": false, "ticks": false, "domain": false, "titlePadding": 3}},
"y": {"field": "r", "type": "nominal", "scale": {"domain": ["Black","Tights","Casual","Bootie","Sexy","Silk","Sports","Mini","Golden","Athletic","Short","Lovely","Winter","Lace","Metallic","Fabric","Leggings","Sweatshirt","Soft","Running"]}},
"stroke": {"field": "k", "type": "nominal", "scale": {"domain": ["high", "low"], "range": ["#FDB515", "#EE1D23"]}, "legend": null}
}}
],
"resolve": {"axis": {"x": "independent"}}
},
{
"width": 218, "height": 219,
"layer": [
{"data": {"name": "movie"}, "mark": "rect",
"encoding": {
"x": {"field": "c", "type": "nominal", "scale": {"domain": ["Friends","Fantasy","Happy","Animation","America","Princess","Romance","Wonderful","Childrens","Father","Fantasy (2)","Superman","Adventure","Midnight","Scifi","Comedy","Crime","Drama","Action","Women"]}, "axis": {"orient": "top", "labelAngle": -90, "title": null, "labelExpr": "replace(datum.label, ' (2)', '')"}},
"y": {"field": "r", "type": "nominal", "scale": {"domain": ["Friends","Fantasy","Happy","Animation","America","Princess","Romance","Wonderful","Childrens","Father","Fantasy (2)","Superman","Adventure","Midnight","Scifi","Comedy","Crime","Drama","Action","Women"]}, "axis": {"title": null, "labelExpr": "replace(datum.label, ' (2)', '')"}},
"color": {"field": "v", "type": "quantitative", "scale": {"scheme": "greenblue", "domain": [-1, 1]}, "legend": {"title": null, "orient": "right", "offset": 26, "gradientLength": 219, "gradientThickness": 12, "values": [-1, -0.75, -0.5, -0.25, 0, 0.25, 0.5, 0.75, 1], "format": ".2f", "labelFont": "Lato", "labelFontSize": 8.5, "labelOffset": 3, "labelColor": "#111", "labelBaseline": "middle", "gradientStrokeWidth": 0, "labelOverlap": false}}
}},
{"data": {"name": "mbox"}, "mark": {"type": "rect", "filled": false, "strokeWidth": 3.2},
"encoding": {
"x": {"field": "c", "type": "nominal", "scale": {"domain": ["Friends","Fantasy","Happy","Animation","America","Princess","Romance","Wonderful","Childrens","Father","Fantasy (2)","Superman","Adventure","Midnight","Scifi","Comedy","Crime","Drama","Action","Women"]}, "axis": {"orient": "bottom", "title": "(b) MovieLens-1M", "labels": false, "ticks": false, "domain": false, "titlePadding": 3}},
"y": {"field": "r", "type": "nominal", "scale": {"domain": ["Friends","Fantasy","Happy","Animation","America","Princess","Romance","Wonderful","Childrens","Father","Fantasy (2)","Superman","Adventure","Midnight","Scifi","Comedy","Crime","Drama","Action","Women"]}},
"stroke": {"field": "k", "type": "nominal", "scale": {"domain": ["high", "low"], "range": ["#FDB515", "#EE1D23"]}, "legend": null}
}}
],
"resolve": {"axis": {"x": "independent"}}
}
],
"spacing": 72,
"bounds": "flush",
"resolve": {"scale": {"color": "shared", "stroke": "shared"}},
"config": {
"view": {"stroke": null},
"axis": {"domain": false, "grid": false, "tickSize": 3, "tickColor": "#777", "tickWidth": 0.8, "labelFont": "Lato", "labelFontSize": 8, "labelColor": "#111", "labelPadding": 2, "titleFont": "Lato", "titleFontSize": 9.5, "titleFontWeight": "normal", "titleColor": "#111"}
}
}
